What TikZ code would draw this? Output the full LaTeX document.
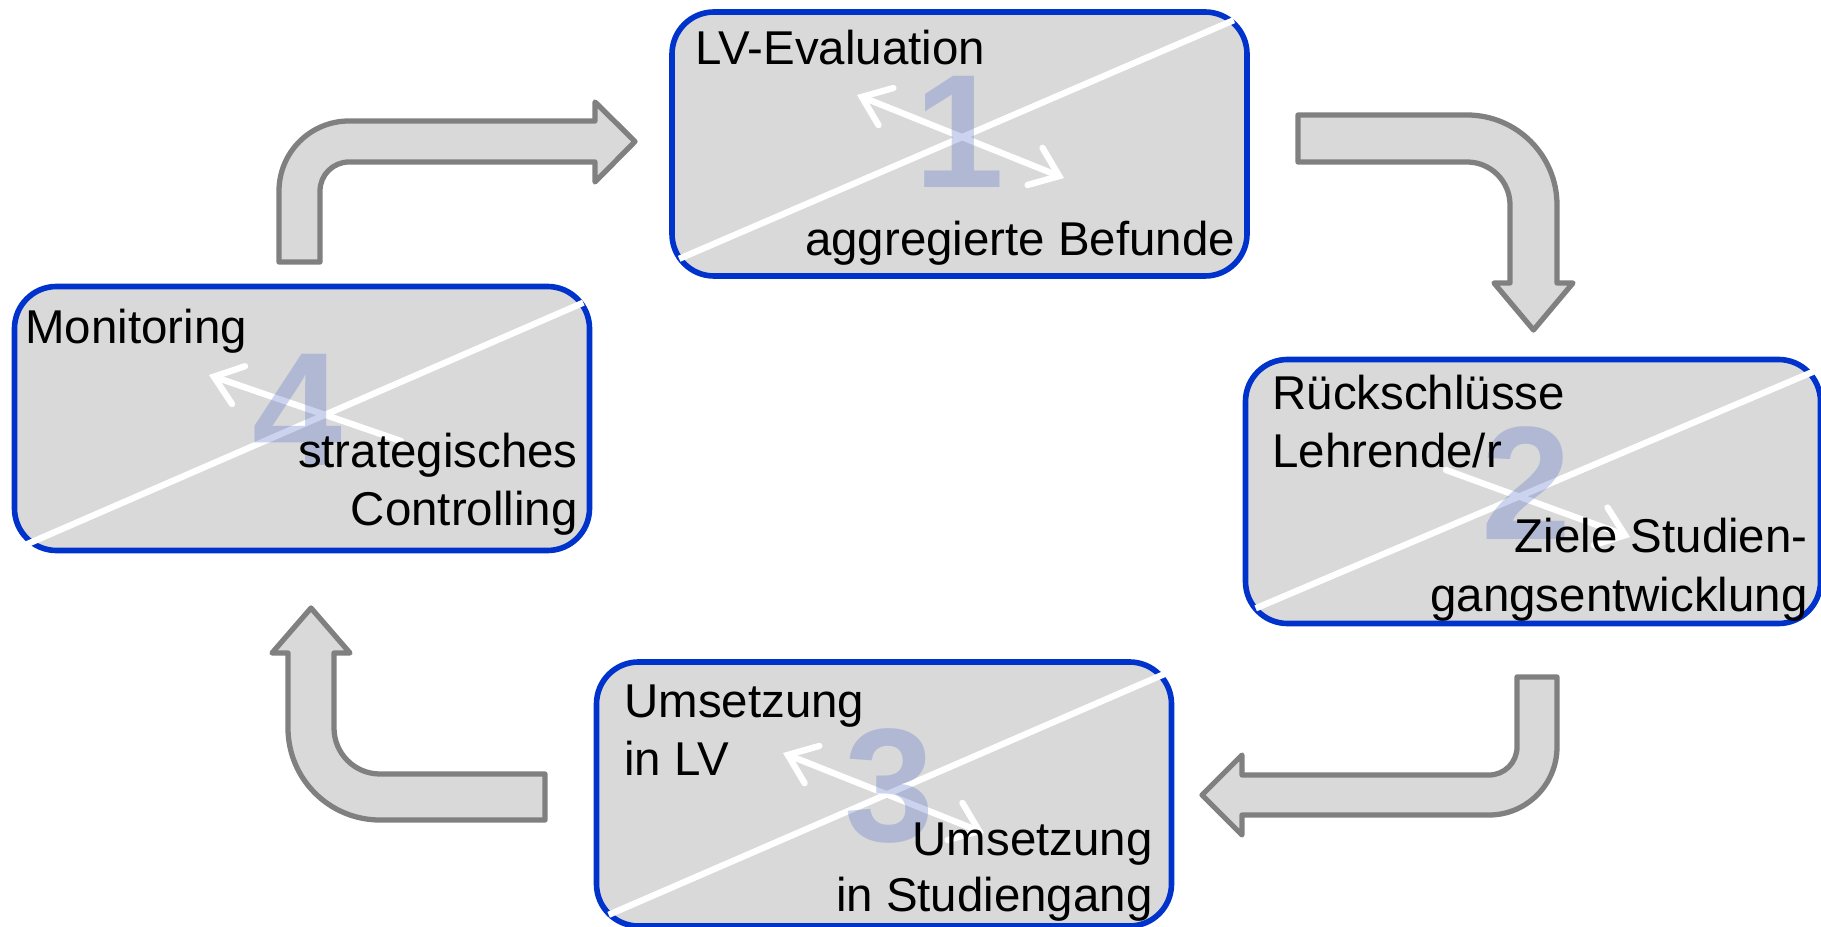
\documentclass[tikz,border=0pt]{standalone}
\usepackage{fontspec}
\setmainfont{Liberation Sans}
\usetikzlibrary{arrows.meta}
\definecolor{stagegray}{RGB}{217,217,217}
\definecolor{stageblue}{RGB}{0,51,204}
\definecolor{arrowgray}{RGB}{128,128,128}
\definecolor{numblue}{RGB}{70,100,200}
\tikzset{
  stagebox/.style={draw=stageblue, line width=1.6pt, fill=stagegray, rounded corners=0.42cm,
    minimum width=5.75cm, minimum height=2.64cm, inner sep=0pt},
  bentarrow/.style={draw=arrowgray, fill=stagegray, line width=1.5pt, line join=round},
  crossline/.style={white, line width=1.8pt},
  swaparrow/.style={white, line width=1.8pt, line cap=round},
  stagenum/.style={font=\fontsize{46pt}{46pt}\selectfont\bfseries, text=numblue, text opacity=0.28, inner sep=0pt},
  steptext/.style={font=\fontsize{13.5pt}{16.5pt}\selectfont, inner sep=0pt},
  >={Straight Barb[length=0.26cm, width=0.40cm, line cap=round]}
}
\begin{document}
\begin{tikzpicture}
\useasboundingbox (0,0) rectangle (18.21,9.26);
% bent arrows between the stages
\draw[bentarrow] (2.79,6.64) -- (2.79,7.35) arc (180:90:0.70) -- (5.95,8.05) -- (5.95,8.24)
  -- (6.35,7.845) -- (5.95,7.44) -- (5.95,7.64) -- (3.49,7.64) arc (90:180:0.29) -- (3.20,6.64) -- cycle;
\draw[bentarrow] (12.98,8.11) -- (14.67,8.11) arc (90:0:0.90) -- (15.57,6.43) -- (15.73,6.43)
  -- (15.335,5.96) -- (14.94,6.43) -- (15.10,6.43) -- (15.10,7.21) arc (0:90:0.43) -- (12.98,7.64) -- cycle;
\draw[bentarrow] (15.17,2.49) -- (15.57,2.49) -- (15.57,1.79) arc (0:-90:0.68) -- (12.42,1.11) -- (12.42,0.91)
  -- (12.02,1.31) -- (12.42,1.71) -- (12.42,1.51) -- (14.89,1.51) arc (-90:0:0.28) -- cycle;
\draw[bentarrow] (5.45,1.52) -- (5.45,1.06) -- (3.80,1.06) arc (270:180:0.92) -- (2.88,2.73) -- (2.72,2.73)
  -- (3.11,3.18) -- (3.50,2.73) -- (3.34,2.73) -- (3.34,1.98) arc (180:270:0.46) -- cycle;
% stages
\node[stagebox] (evaluation) at (9.595,7.82) {};
\node[stagebox] (conclusions) at (15.33,4.345) {};
\node[stagebox] (implementation) at (8.84,1.32) {};
\node[stagebox] (monitoring) at (3.02,5.075) {};
\draw[crossline] ([shift={(0.10,0.20)}]evaluation.south west) -- ([shift={(-0.16,-0.11)}]evaluation.north east);
\draw[crossline] ([shift={(0.13,0.18)}]conclusions.south west) -- ([shift={(-0.10,-0.15)}]conclusions.north east);
\draw[crossline] ([shift={(0.15,0.14)}]implementation.south west) -- ([shift={(-0.08,-0.14)}]implementation.north east);
\draw[crossline] ([shift={(0.15,0.09)}]monitoring.south west) -- ([shift={(-0.09,-0.19)}]monitoring.north east);
\draw[swaparrow, <->] ([shift={(-1.025,0.49)}]evaluation.center) -- ([shift={(1.045,-0.34)}]evaluation.center);
\draw[swaparrow, ->] ([shift={(-0.87,0.215)}]conclusions.center) -- ([shift={(0.97,-0.455)}]conclusions.center);
\draw[swaparrow, <->] ([shift={(-1.01,0.41)}]implementation.center) -- ([shift={(1.00,-0.39)}]implementation.center);
\draw[swaparrow, <-] ([shift={(-0.93,0.435)}]monitoring.center) -- ([shift={(0.99,-0.225)}]monitoring.center);
\node[stagenum] (num1) at ([yshift=0.12cm]evaluation.center) {1};
\node[stagenum] (num2) at ([shift={(-0.07,0.08)}]conclusions.center) {2};
\node[stagenum] (num3) at ([shift={(0.05,0.08)}]implementation.center) {3};
\node[stagenum] (num4) at ([shift={(-0.05,0.09)}]monitoring.center) {4};
% labels
\node[steptext, anchor=base west] (evaltop) at ([shift={(0.26,-0.55)}]evaluation.north west) {LV-Evaluation};
\node[steptext, anchor=base east] (evalbottom) at ([shift={(-0.14,0.23)}]evaluation.south east) {aggregierte Befunde};
\node[steptext, anchor=base west] (conctop) at ([shift={(0.29,-0.53)}]conclusions.north west) {Rückschlüsse};
\node[steptext, anchor=base west] (conctop2) at ([yshift=-0.58cm]conctop.base west) {Lehrende/r};
\node[steptext, anchor=base east] (concbottom2) at ([shift={(-0.15,0.15)}]conclusions.south east) {gangsentwicklung};
\node[steptext, anchor=base east] (concbottom) at ([yshift=0.59cm]concbottom2.base east) {Ziele Studien-};
\node[steptext, anchor=base west] (impltop) at ([shift={(0.30,-0.58)}]implementation.north west) {Umsetzung};
\node[steptext, anchor=base west] (impltop2) at ([yshift=-0.58cm]impltop.base west) {in LV};
\node[steptext, anchor=base east] (implbottom2) at ([shift={(-0.21,0.17)}]implementation.south east) {in Studiengang};
\node[steptext, anchor=base east] (implbottom) at ([yshift=0.56cm]implbottom2.base east) {Umsetzung};
\node[steptext, anchor=base west] (montop) at ([shift={(0.13,-0.60)}]monitoring.north west) {Monitoring};
\node[steptext, anchor=base east] (monbottom2) at ([shift={(-0.14,0.28)}]monitoring.south east) {Controlling};
\node[steptext, anchor=base east] (monbottom) at ([yshift=0.58cm]monbottom2.base east) {strategisches};
\end{tikzpicture}
\end{document}
